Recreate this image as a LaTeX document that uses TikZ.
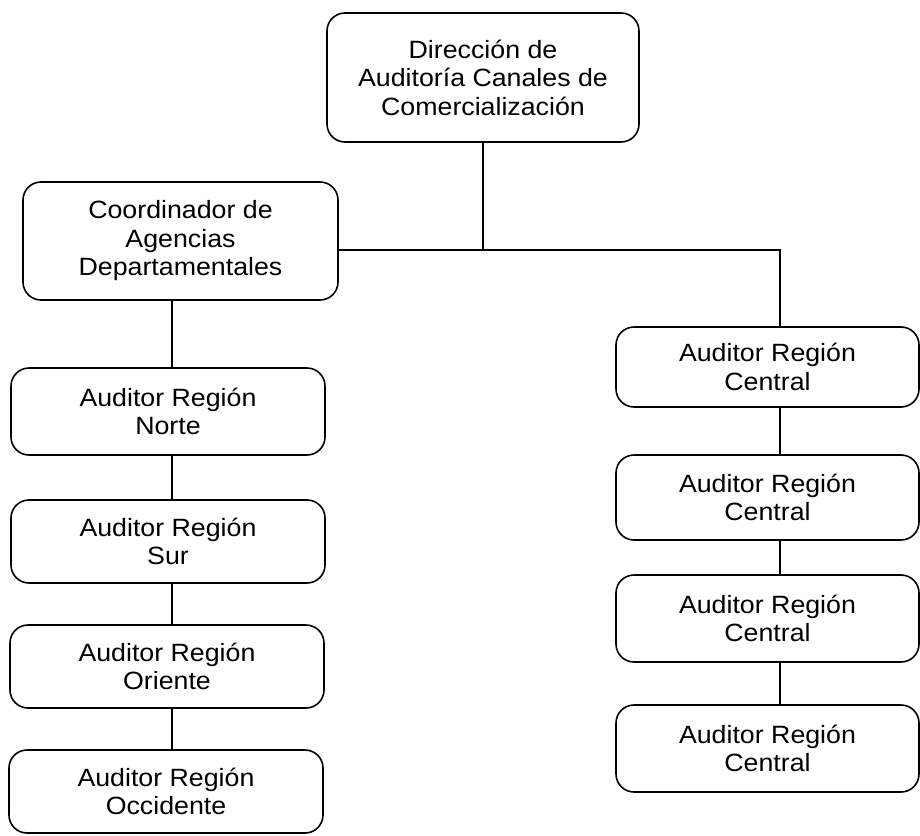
\documentclass[tikz,border=0pt]{standalone}
\usepackage{fontspec}
\setmainfont{Liberation Sans}[FakeStretch=1.07]
\begin{document}
\begin{tikzpicture}[x=1pt,y=-1pt,
  box/.style={draw=black, line width=1.6pt, rounded corners=18pt, align=center,
    inner sep=0pt, font=\fontsize{25}{28.5}\selectfont, text=black},
  link/.style={draw=black, line width=1.5pt}]
\useasboundingbox (0,0) rectangle (920,835);
% top
\node[box, minimum width=312pt, minimum height=129pt] (top) at (483,77.5)
  {Dirección de\\Auditoría Canales de\\Comercialización};
\node[box, minimum width=315pt, minimum height=118pt] (coord) at (180.5,241)
  {Coordinador de\\Agencias\\Departamentales};
% left column
\node[box, minimum width=314pt, minimum height=87pt] (norte) at (168,411.5)
  {Auditor Región\\Norte};
\node[box, minimum width=314pt, minimum height=83pt] (sur) at (168,541.5)
  {Auditor Región\\Sur};
\node[box, minimum width=314pt, minimum height=83pt] (oriente) at (167,666.5)
  {Auditor Región\\Oriente};
\node[box, minimum width=314pt, minimum height=83pt] (occidente) at (166,791.5)
  {Auditor Región\\Occidente};
% right column
\node[box, minimum width=303pt, minimum height=80pt] (c1) at (767.5,367)
  {Auditor Región\\Central};
\node[box, minimum width=303pt, minimum height=85pt] (c2) at (767.5,497.5)
  {Auditor Región\\Central};
\node[box, minimum width=303pt, minimum height=87pt] (c3) at (767.5,618.5)
  {Auditor Región\\Central};
\node[box, minimum width=303pt, minimum height=87pt] (c4) at (767.5,748.5)
  {Auditor Región\\Central};
% helper coordinates
\coordinate (hy) at (0,250);
\coordinate (lx) at (172,0);
\coordinate (rx) at (780,0);
% connectors
\draw[link] (top.south) -- (top.south |- hy);
\draw[link] (coord.east |- hy) -- (rx |- hy) -- (c1.north -| rx);
\draw[link] (coord.south -| lx) -- (norte.north -| lx);
\draw[link] (norte.south -| lx) -- (sur.north -| lx);
\draw[link] (sur.south -| lx) -- (oriente.north -| lx);
\draw[link] (oriente.south -| lx) -- (occidente.north -| lx);
\draw[link] (c1.south -| rx) -- (c2.north -| rx);
\draw[link] (c2.south -| rx) -- (c3.north -| rx);
\draw[link] (c3.south -| rx) -- (c4.north -| rx);
\end{tikzpicture}
\end{document}
